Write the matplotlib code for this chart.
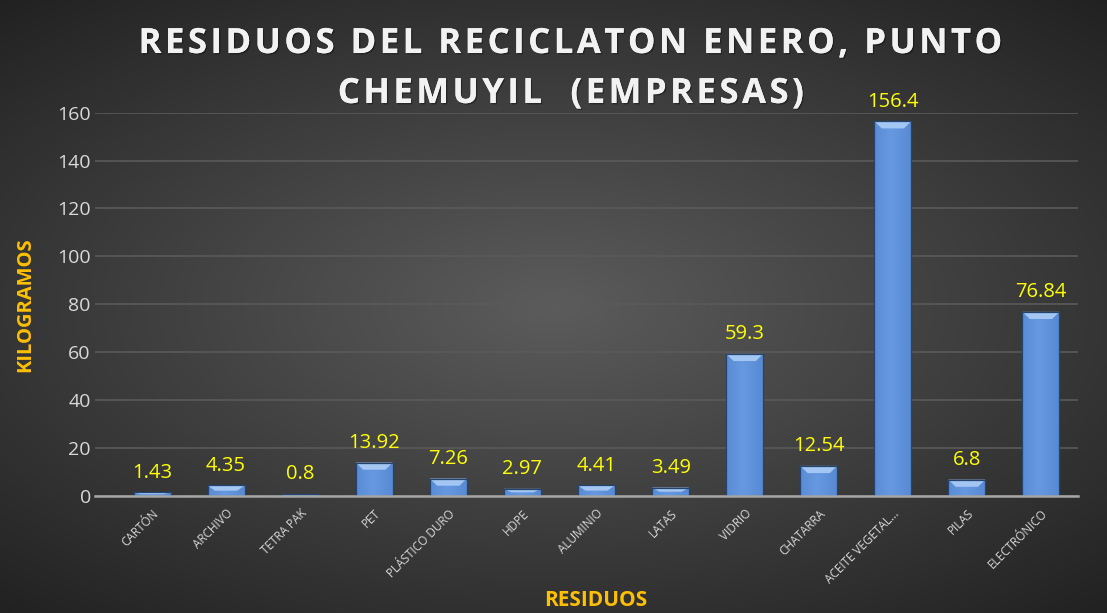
import numpy as np
import matplotlib.pyplot as plt
import matplotlib.patheffects as pe
from matplotlib.patches import Polygon

categories = ['CARTÓN', 'ARCHIVO', 'TETRA PAK', 'PET', 'PLÁSTICO DURO', 'HDPE', 'ALUMINIO',
              'LATAS', 'VIDRIO', 'CHATARRA', 'ACEITE VEGETAL...', 'PILAS', 'ELECTRÓNICO']
kilos = [1.43, 4.35, 0.8, 13.92, 7.26, 2.97, 4.41, 3.49, 59.3, 12.54, 156.4, 6.8, 76.84]
value_labels = ['1.43', '4.35', '0.8', '13.92', '7.26', '2.97', '4.41', '3.49', '59.3',
                '12.54', '156.4', '6.8', '76.84']
title_lines = ['RESIDUOS DEL RECICLATON ENERO, PUNTO', 'CHEMUYIL  (EMPRESAS)']

fig = plt.figure(figsize=(11.07, 6.13), dpi=100)

# radial dark gradient background
bg = fig.add_axes([0, 0, 1, 1], zorder=0)
yy, xx = np.mgrid[-1:1:300j, -1:1:540j]
r = np.sqrt((xx * 0.9) ** 2 + (yy * 1.0) ** 2)
shade = np.clip(0.36 - 0.17 * r, 0.12, 0.4)
bg.imshow(np.dstack([shade, shade, shade]), aspect='auto', extent=[0, 1, 0, 1], interpolation='bilinear')
bg.set_axis_off()

ax = fig.add_axes([0.0858, 0.191, 0.888, 0.6253], zorder=1)
ax.patch.set_alpha(0)
x = np.arange(len(categories))
width = 0.5
bars = ax.bar(x, kilos, width=width, color='#4F81BD', edgecolor='#2A4E80', linewidth=0.8, zorder=3)

# horizontal gradient on bars plus a lighter bevel at the top
grad = np.linspace(0, 1, 64)
prof = 1 - 0.4 * np.abs(grad - 0.45) * 2
bar_img = np.stack([0.26 + 0.14 * prof, 0.46 + 0.14 * prof, 0.74 + 0.14 * prof], axis=-1)
bar_img = np.repeat(bar_img[None, :, :], 2, axis=0)
for b, v in zip(bars, kilos):
    x0 = b.get_x()
    im = ax.imshow(bar_img, extent=[x0, x0 + width, 0, v], aspect='auto', zorder=3.5,
                   interpolation='bilinear')
    im.set_clip_path(b)
    bev = min(3.0, v * 0.5)
    ax.add_patch(Polygon([[x0, v], [x0 + width, v], [x0 + width - 0.1, v - bev], [x0 + 0.1, v - bev]],
                         closed=True, facecolor='#A4C6F2', edgecolor='none', zorder=4))
    ax.add_patch(plt.Rectangle((x0, 0), width, v, fill=False, edgecolor='#24446F', linewidth=0.9, zorder=4.5))

for xi, v, lab in zip(x, kilos, value_labels):
    ax.annotate(lab, (xi, v), xytext=(0, 7), textcoords='offset points', ha='center', va='bottom',
                color='#FFFF00', fontsize=14.5, family='Open Sans', zorder=5)

ax.set_xlim(-0.77, len(categories) - 0.5)
ax.set_ylim(0, 160)
ax.set_yticks(np.arange(0, 161, 20))
ax.grid(axis='y', color='#5a5a5a', linewidth=1.2, zorder=1)
ax.set_axisbelow(True)
for s in ['top', 'right', 'left']:
    ax.spines[s].set_visible(False)
ax.spines['bottom'].set_color('#a6a6a6')
ax.spines['bottom'].set_linewidth(1.8)
ax.spines['bottom'].set_zorder(6)
ax.tick_params(axis='both', length=0)
ax.tick_params(axis='y', colors='#d9d9d9', labelsize=14, pad=3)
ax.set_xticks(x)
ax.set_xticklabels(categories, rotation=45, ha='right', rotation_mode='anchor', fontsize=8.5,
                   color='#d9d9d9', family='Open Sans')
ax.tick_params(axis='x', pad=8)
for t in ax.get_yticklabels():
    t.set_family('Open Sans')

ax.set_ylabel('KILOGRAMOS', color='#FFC000', fontsize=14.5, fontweight='bold', family='Open Sans')
ax.yaxis.set_label_coords(-0.061, 0.5)
fig.text(0.538, 0.021, 'RESIDUOS', color='#FFC000', fontsize=15, fontweight='bold', family='Open Sans',
         ha='center', va='center')

# wide letter spacing in the title via hair spaces
shadow = [pe.withSimplePatchShadow(offset=(1, -1), shadow_rgbFace='black', alpha=0.35), pe.Normal()]
for line, yb in zip(title_lines, [0.9135, 0.832]):
    spaced = '\u200a'.join(line)
    fig.text(0.516, yb, spaced, color='#f2f2f2', fontsize=25, fontweight='bold',
             family=['Open Sans', 'DejaVu Sans'], ha='center', va='baseline', path_effects=shadow)

fig.savefig('out.png', dpi=100)
